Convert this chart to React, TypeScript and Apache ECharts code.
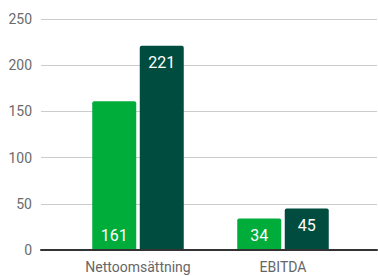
import React, { useEffect, useRef } from "react";
import * as echarts from "echarts";

const categories = ["Nettoomsättning", "EBITDA"];
const seriesA = [161, 34];
const seriesB = [221, 45];
const yTicks = [0, 50, 100, 150, 200, 250];

export default function App() {
  const ref = useRef<HTMLDivElement>(null);
  useEffect(() => {
    if (!ref.current) return;
    const chart = echarts.init(ref.current, null, { renderer: "svg" });
    const font = "Roboto, 'Noto Sans', sans-serif";
    chart.setOption({
      animation: false,
      grid: [
        { left: 41, right: 1, top: 19, bottom: 26 },
        { left: 65.5, right: 22.5, top: 19, bottom: 26 },
      ],
      xAxis: [
        {
          type: "category",
          gridIndex: 0,
          data: [""],
          axisLine: { show: true, lineStyle: { color: "#333", width: 2 } },
          axisTick: { show: false },
          axisLabel: { show: false },
          z: 5,
        },
        {
          type: "category",
          gridIndex: 1,
          data: categories,
          axisLine: { show: false },
          axisTick: { show: false },
          axisLabel: { color: "#666", fontSize: 14, fontFamily: font, margin: 10 },
        },
      ],
      yAxis: [
        {
          type: "value",
          gridIndex: 0,
          min: yTicks[0],
          max: yTicks[yTicks.length - 1],
          interval: 50,
          axisLine: { show: false },
          axisTick: { show: false },
          axisLabel: { color: "#6b6b6b", fontSize: 14, fontFamily: font, margin: 9 },
          splitLine: { lineStyle: { color: "#cccccc", width: 1 } },
        },
        {
          type: "value",
          gridIndex: 1,
          min: yTicks[0],
          max: yTicks[yTicks.length - 1],
          interval: 50,
          show: false,
          splitLine: { show: false },
        },
      ],
      series: [
        {
          type: "bar",
          xAxisIndex: 1,
          yAxisIndex: 1,
          data: seriesA,
          barWidth: 44,
          barGap: "8%",
          itemStyle: { color: "#00ad3b", borderRadius: [2, 2, 0, 0] },
          label: {
            show: true,
            position: "insideBottom",
            distance: 7,
            color: "#fff",
            fontSize: 16,
            fontFamily: font,
          },
        },
        {
          type: "bar",
          xAxisIndex: 1,
          yAxisIndex: 1,
          data: seriesB,
          barWidth: 44,
          barGap: "8%",
          itemStyle: { color: "#004d40", borderRadius: [2, 2, 0, 0] },
          label: {
            show: true,
            position: "insideTop",
            distance: 9,
            color: "#fff",
            fontSize: 16,
            fontFamily: font,
          },
        },
      ],
    });
    return () => chart.dispose();
  }, []);
  return <div ref={ref} style={{ width: 378, height: 276, position: "absolute", left: 0, top: 0 }} />;
}
